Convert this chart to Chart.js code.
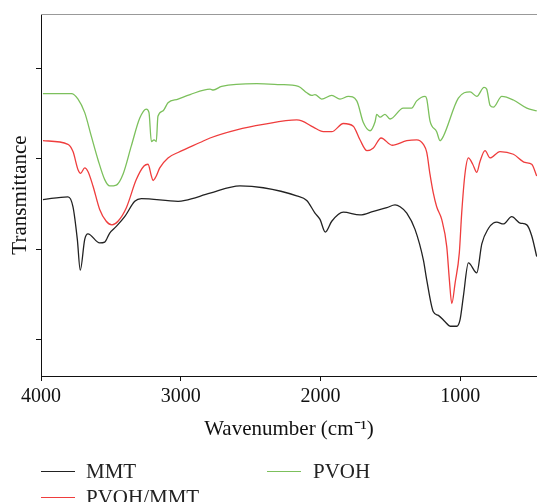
<!DOCTYPE html>
<html>
<head>
<meta charset="utf-8">
<script src="https://cdn.jsdelivr.net/npm/chart.js@4.4.1/dist/chart.umd.min.js"></script>
<style>
  body { margin: 0; background: #fff; }
  #wrap { position: relative; width: 537px; height: 502px; font-family: "Liberation Serif", serif; }
  #ftir { position: absolute; left: 0; top: 0; }
  .leg { position: absolute; font-size: 21px; color: #222; line-height: 1; }
  .leg span.sw { position: absolute; width: 34px; height: 0; border-top: 1.3px solid; top: 50%; }
  .leg span.tx { position: absolute; white-space: nowrap; transform: translateY(-50%); top: 50%; }
</style>
</head>
<body>
<div id="wrap">
  <canvas id="ftir" width="537" height="502"></canvas>
  <div class="leg" style="left:41px; top:471px;"><span class="sw" style="border-color:#222; left:0;"></span><span class="tx" style="left:45px;">MMT</span></div>
  <div class="leg" style="left:267px; top:471px;"><span class="sw" style="border-color:#7cc05c; left:0;"></span><span class="tx" style="left:46px;">PVOH</span></div>
  <div class="leg" style="left:41px; top:497px;"><span class="sw" style="border-color:#ef3d3d; left:0;"></span><span class="tx" style="left:45px;">PVOH/MMT</span></div>
</div>
<script>
// wavenumber (cm-1) and transmittance (arbitrary units, curves offset)
const mmtWave = [3986, 3807, 3771, 3740, 3719, 3687, 3664, 3580, 3544, 3508, 3463, 3401, 3329, 3282, 3019, 2969, 2790, 2576, 2409, 2170, 2098, 2039, 2003, 1965, 1919, 1836, 1717, 1621, 1525, 1466, 1430, 1382, 1323, 1263, 1239, 1192, 1156, 1108, 1072, 1024, 1001, 977, 941, 881, 845, 798, 762, 738, 691, 631, 571, 523, 488, 452];
const mmtT    = [1.55, 1.58, 1.47, 1.11, 0.77, 1.11, 1.17, 1.07, 1.08, 1.18, 1.25, 1.36, 1.53, 1.56, 1.53, 1.54, 1.62, 1.70, 1.68, 1.59, 1.54, 1.40, 1.33, 1.19, 1.31, 1.41, 1.38, 1.42, 1.46, 1.49, 1.47, 1.40, 1.22, 0.88, 0.66, 0.31, 0.27, 0.20, 0.15, 0.15, 0.22, 0.48, 0.85, 0.74, 1.06, 1.23, 1.29, 1.30, 1.28, 1.36, 1.29, 1.27, 1.15, 0.92];

const compWave = [3986, 3807, 3771, 3735, 3716, 3687, 3664, 3628, 3580, 3533, 3492, 3449, 3389, 3318, 3263, 3234, 3210, 3198, 3175, 3150, 3091, 3019, 2862, 2790, 2599, 2409, 2170, 2134, 2051, 1979, 1919, 1836, 1765, 1717, 1667, 1621, 1566, 1487, 1382, 1311, 1263, 1239, 1216, 1192, 1168, 1132, 1096, 1077, 1060, 1036, 1006, 989, 965, 941, 910, 881, 858, 822, 786, 715, 619, 536, 488, 452];
const compT    = [2.20, 2.16, 2.08, 1.88, 1.84, 1.90, 1.86, 1.70, 1.44, 1.31, 1.27, 1.31, 1.46, 1.77, 1.92, 1.94, 1.81, 1.76, 1.81, 1.90, 2.01, 2.07, 2.18, 2.23, 2.32, 2.38, 2.43, 2.42, 2.35, 2.30, 2.30, 2.39, 2.36, 2.21, 2.09, 2.12, 2.23, 2.15, 2.20, 2.21, 2.16, 2.07, 1.83, 1.62, 1.47, 1.33, 1.03, 0.66, 0.40, 0.63, 0.96, 1.40, 1.84, 2.01, 1.94, 1.85, 1.97, 2.09, 2.01, 2.08, 2.05, 1.96, 1.94, 1.81];

const pvohWave = [3986, 3783, 3735, 3687, 3640, 3592, 3544, 3508, 3461, 3413, 3354, 3293, 3246, 3227, 3210, 3191, 3175, 3163, 3127, 3091, 3019, 2933, 2790, 2767, 2707, 2456, 2289, 2158, 2098, 2062, 2039, 1991, 1919, 1860, 1800, 1740, 1693, 1645, 1609, 1597, 1573, 1538, 1502, 1407, 1347, 1311, 1251, 1239, 1216, 1168, 1144, 1120, 1013, 929, 881, 829, 810, 786, 762, 702, 619, 523, 452];
const pvohT    = [2.72, 2.72, 2.66, 2.51, 2.25, 1.99, 1.77, 1.70, 1.71, 1.83, 2.14, 2.45, 2.55, 2.51, 2.19, 2.21, 2.19, 2.47, 2.53, 2.62, 2.66, 2.71, 2.77, 2.76, 2.80, 2.83, 2.82, 2.80, 2.73, 2.70, 2.71, 2.66, 2.70, 2.66, 2.69, 2.64, 2.40, 2.31, 2.41, 2.49, 2.46, 2.49, 2.44, 2.56, 2.56, 2.64, 2.69, 2.66, 2.42, 2.30, 2.20, 2.25, 2.67, 2.74, 2.69, 2.79, 2.77, 2.59, 2.57, 2.69, 2.65, 2.56, 2.53];

const xTicks = [4000, 3000, 2000, 1000];
const yTicks = [0, 1, 2, 3];

function toPoints(xs, ys) {
    return xs.map((x, i) => ({ x: x, y: ys[i] }));
}

const serif = '"Liberation Serif", "Times New Roman", serif';

// thin grey frame line along the top of the plot
const topLine = {
    id: 'topLine',
    afterDraw(chart) {
        const { ctx, chartArea } = chart;
        ctx.save();
        ctx.strokeStyle = '#999';
        ctx.lineWidth = 1.2;
        ctx.beginPath();
        ctx.moveTo(chartArea.left, chartArea.top + 0.5);
        ctx.lineTo(chartArea.right, chartArea.top + 0.5);
        ctx.stroke();
        ctx.restore();
    }
};

new Chart(document.getElementById('ftir'), {
    type: 'line',
    data: {
        datasets: [
            { label: 'MMT', data: toPoints(mmtWave, mmtT), borderColor: '#222', borderWidth: 1.3 },
            { label: 'PVOH/MMT', data: toPoints(compWave, compT), borderColor: '#ef3d3d', borderWidth: 1.3 },
            { label: 'PVOH', data: toPoints(pvohWave, pvohT), borderColor: '#7cc05c', borderWidth: 1.3 }
        ]
    },
    options: {
        responsive: false,
        animation: false,
        layout: { padding: { left: 0, right: 0, top: 14, bottom: 60 } },
        elements: {
            point: { radius: 0 },
            line: { cubicInterpolationMode: 'monotone', fill: false }
        },
        plugins: {
            legend: { display: false },
            tooltip: { enabled: false }
        },
        scales: {
            x: {
                type: 'linear',
                reverse: true,
                min: 450,
                max: 4000,
                afterBuildTicks: s => { s.ticks = xTicks.map(v => ({ value: v })); },
                afterFit: s => { s.height = 66; },
                border: { display: true, color: '#111', width: 1 },
                grid: { drawOnChartArea: false, drawTicks: true, tickLength: 5, color: '#111' },
                ticks: {
                    color: '#111',
                    padding: 4,
                    maxRotation: 0,
                    font: { family: serif, size: 20 },
                    callback: v => String(v)
                },
                title: {
                    display: true,
                    text: 'Wavenumber (cm\u207B\u00B9)',
                    color: '#111',
                    padding: 0,
                    font: { family: serif, size: 21 }
                }
            },
            y: {
                min: -0.4,
                max: 3.6,
                afterBuildTicks: s => { s.ticks = yTicks.map(v => ({ value: v })); },
                afterFit: s => { s.width = 41; },
                border: { display: true, color: '#111', width: 1 },
                grid: { drawOnChartArea: false, drawTicks: true, tickLength: 5, color: '#111' },
                ticks: { display: false },
                title: {
                    display: true,
                    text: 'Transmittance',
                    color: '#111',
                    padding: { top: 8, bottom: 0 },
                    font: { family: serif, size: 21 }
                }
            }
        }
    },
    plugins: [topLine]
});
</script>
</body>
</html>
